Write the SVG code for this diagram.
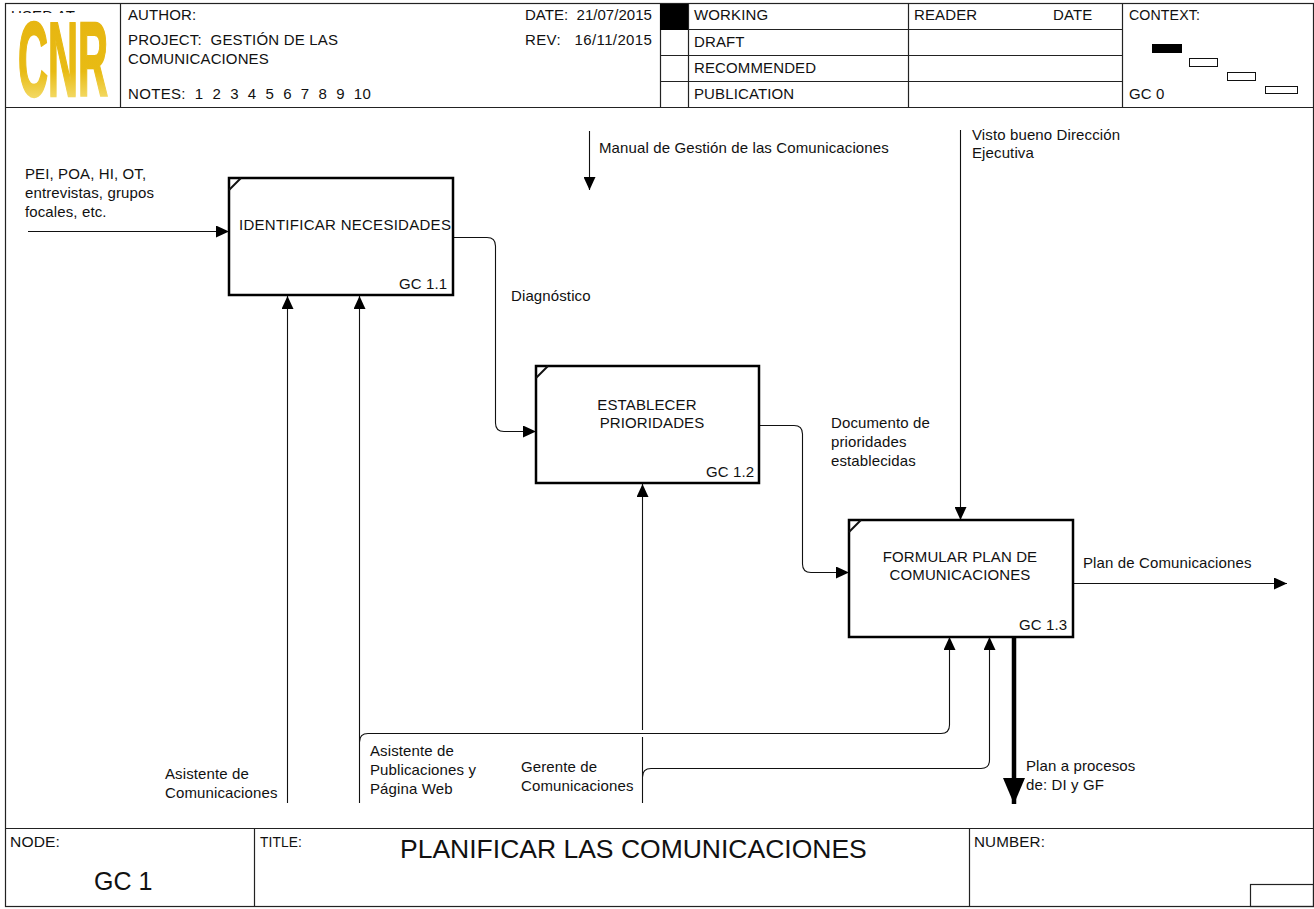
<svg xmlns="http://www.w3.org/2000/svg" width="1314" height="909" viewBox="0 0 1314 909">
<style>
text{font-family:"Liberation Sans",Arial,sans-serif;font-size:15px;letter-spacing:.12px;fill:#111}
.f{fill:none;stroke:#111;stroke-width:2}
.b{fill:#fff;stroke:#000;stroke-width:2.5}
.c{fill:none;stroke:#111;stroke-width:1.1}
.g{stroke:#222;stroke-width:1.2}
</style>
<defs>
<marker id="a" markerUnits="userSpaceOnUse" markerWidth="14" markerHeight="12" refX="13" refY="6" orient="auto"><path d="M0 0L13 6L0 12Z" fill="#000"/></marker>
<marker id="h" markerUnits="userSpaceOnUse" markerWidth="27" markerHeight="24" refX="26" refY="12" orient="auto"><path d="M0 1L26 12L0 23Z" fill="#000"/></marker>
<linearGradient id="lg" x1="0" y1="0" x2="0" y2="1"><stop offset="0" stop-color="#e6b410"/><stop offset=".6" stop-color="#e8bb14"/><stop offset="1" stop-color="#fbf0a0"/></linearGradient>
<clipPath id="uc"><rect x="5" y="5" width="110" height="8"/></clipPath>
</defs>
<rect width="1314" height="909" fill="#fff"/>
<g id="frame" class="g" fill="none">
<rect x="5.500" y="3.500" width="1308" height="903"/>
<line x1="5" y1="107.500" x2="1314" y2="107.500"/>
<line x1="120.500" y1="4" x2="120.500" y2="107"/>
<line x1="660.500" y1="4" x2="660.500" y2="107"/>
<line x1="688.500" y1="4" x2="688.500" y2="107"/>
<line x1="908.500" y1="4" x2="908.500" y2="107"/>
<line x1="1122.500" y1="4" x2="1122.500" y2="107"/>
<line x1="660" y1="29.500" x2="1122" y2="29.500"/>
<line x1="660" y1="55.500" x2="1122" y2="55.500"/>
<line x1="660" y1="81.500" x2="1122" y2="81.500"/>
<line x1="5" y1="828.500" x2="1314" y2="828.500"/>
<line x1="254.500" y1="829" x2="254.500" y2="907"/>
<line x1="969.500" y1="829" x2="969.500" y2="907"/>
<rect x="1250.500" y="884.500" width="63" height="22"/>
</g>
<g id="header">
<text x="11" y="21" clip-path="url(#uc)">USED AT:</text>
<text transform="translate(18 96) scale(.452 1.14)" style="font-size:92px;font-weight:bold;letter-spacing:0;fill:url(#lg);stroke:url(#lg);stroke-width:2">CNR</text>
<rect x="660" y="4" width="28" height="26" fill="#000"/>
<g transform="translate(0 1)">
<text x="128" y="19">AUTHOR:</text>
<text x="128" y="44" xml:space="preserve" textLength="210" lengthAdjust="spacing">PROJECT:  GESTIÓN DE LAS</text>
<text x="128" y="63">COMUNICACIONES</text>
<text x="128" y="98" xml:space="preserve" textLength="243" lengthAdjust="spacing">NOTES:  1  2  3  4  5  6  7  8  9  10</text>
<text x="525" y="19" xml:space="preserve" textLength="127" lengthAdjust="spacing">DATE:  21/07/2015</text>
<text x="525" y="44" xml:space="preserve" textLength="127" lengthAdjust="spacing">REV:   16/11/2015</text>
<text x="694" y="19">WORKING</text>
<text x="694" y="46">DRAFT</text>
<text x="694" y="72">RECOMMENDED</text>
<text x="694" y="98">PUBLICATION</text>
<text x="914" y="19">READER</text>
<text x="1053" y="19">DATE</text>
<text x="1129" y="19" textLength="71" lengthAdjust="spacingAndGlyphs">CONTEXT:</text>
<text x="1129" y="98">GC 0</text>
</g>
<rect x="1152.500" y="44.500" width="29" height="8" fill="#000" stroke="#000"/>
<rect x="1189.500" y="58.500" width="28" height="8" fill="#fff" stroke="#111"/>
<rect x="1227.500" y="72.500" width="28" height="8" fill="#fff" stroke="#111"/>
<rect x="1265.500" y="86.500" width="32" height="7" fill="#fff" stroke="#111"/>
</g>
<g id="connectors">
<path class="c" d="M28 231.500H229" marker-end="url(#a)"/>
<path class="c" d="M589.500 131V190" marker-end="url(#a)"/>
<path class="c" d="M960.500 130V520" marker-end="url(#a)"/>
<path class="c" d="M287.500 803V296" marker-end="url(#a)"/>
<path class="c" d="M359.500 803V296" marker-end="url(#a)"/>
<path class="c" d="M453 237.500H487Q495.500 237.500 495.500 246V423Q495.500 431.500 504 431.500H536" marker-end="url(#a)"/>
<path class="c" d="M759 425.500H794Q802.500 425.500 802.500 434V564Q802.500 572.500 811 572.500H849" marker-end="url(#a)"/>
<path class="c" d="M642.500 730V484" marker-end="url(#a)"/>
<path class="c" d="M642.500 737V803"/>
<path class="c" d="M359.500 742Q359.500 733.500 368 733.500H941Q949.500 733.500 949.500 725V637" marker-end="url(#a)"/>
<path class="c" d="M642.500 777Q642.500 768.500 651 768.500H981Q989.500 768.500 989.500 760V637" marker-end="url(#a)"/>
<path class="c" d="M1073 583.500H1287" marker-end="url(#a)"/>
<path fill="none" stroke="#000" stroke-width="4.500" d="M1014 637V804" marker-end="url(#h)"/>
</g>
<g id="n1"><rect class="b" x="229" y="178" width="224" height="117"/><path class="f" d="M229 190L241 178"/><text x="239" y="230" textLength="212" lengthAdjust="spacing">IDENTIFICAR NECESIDADES</text><text x="399" y="289">GC 1.1</text></g>
<g id="n2"><rect class="b" x="536" y="366" width="223" height="117"/><path class="f" d="M536 378L548 366"/><text x="647" y="410" text-anchor="middle">ESTABLECER</text><text x="652" y="428" text-anchor="middle">PRIORIDADES</text><text x="706" y="477">GC 1.2</text></g>
<g id="n3"><rect class="b" x="849" y="520" width="224" height="117"/><path class="f" d="M849 532L861 520"/><text x="960" y="562" text-anchor="middle">FORMULAR PLAN DE</text><text x="960" y="580" text-anchor="middle">COMUNICACIONES</text><text x="1019" y="630">GC 1.3</text></g>
<g id="labels" transform="translate(0 1)">
<text x="599" y="152">Manual de Gestión de las Comunicaciones</text>
<text x="972" y="139">Visto bueno Dirección</text><text x="972" y="157">Ejecutiva</text>
<text x="25" y="178">PEI, POA, HI, OT,</text><text x="25" y="197">entrevistas, grupos</text><text x="25" y="216">focales, etc.</text>
<text x="511" y="300">Diagnóstico</text>
<text x="831" y="427">Documento de</text><text x="831" y="446">prioridades</text><text x="831" y="465">establecidas</text>
<text x="1083" y="567">Plan de Comunicaciones</text>
<text x="1026" y="770">Plan a procesos</text><text x="1026" y="789">de: DI y  GF</text>
<text x="165" y="778">Asistente de</text><text x="165" y="797">Comunicaciones</text>
<text x="370" y="755">Asistente de</text><text x="370" y="774">Publicaciones y</text><text x="370" y="793">Página Web</text>
<text x="521" y="771">Gerente de</text><text x="521" y="790">Comunicaciones</text>
</g>
<g id="footer">
<text x="10" y="847" textLength="50" lengthAdjust="spacingAndGlyphs">NODE:</text>
<text x="94" y="890" style="font-size:25px;letter-spacing:0">GC 1</text>
<text x="260" y="847" textLength="42" lengthAdjust="spacingAndGlyphs">TITLE:</text>
<text x="400" y="858" style="font-size:26.500px;letter-spacing:0">PLANIFICAR LAS COMUNICACIONES</text>
<text x="974" y="847" textLength="71" lengthAdjust="spacingAndGlyphs">NUMBER:</text>
</g>
</svg>
